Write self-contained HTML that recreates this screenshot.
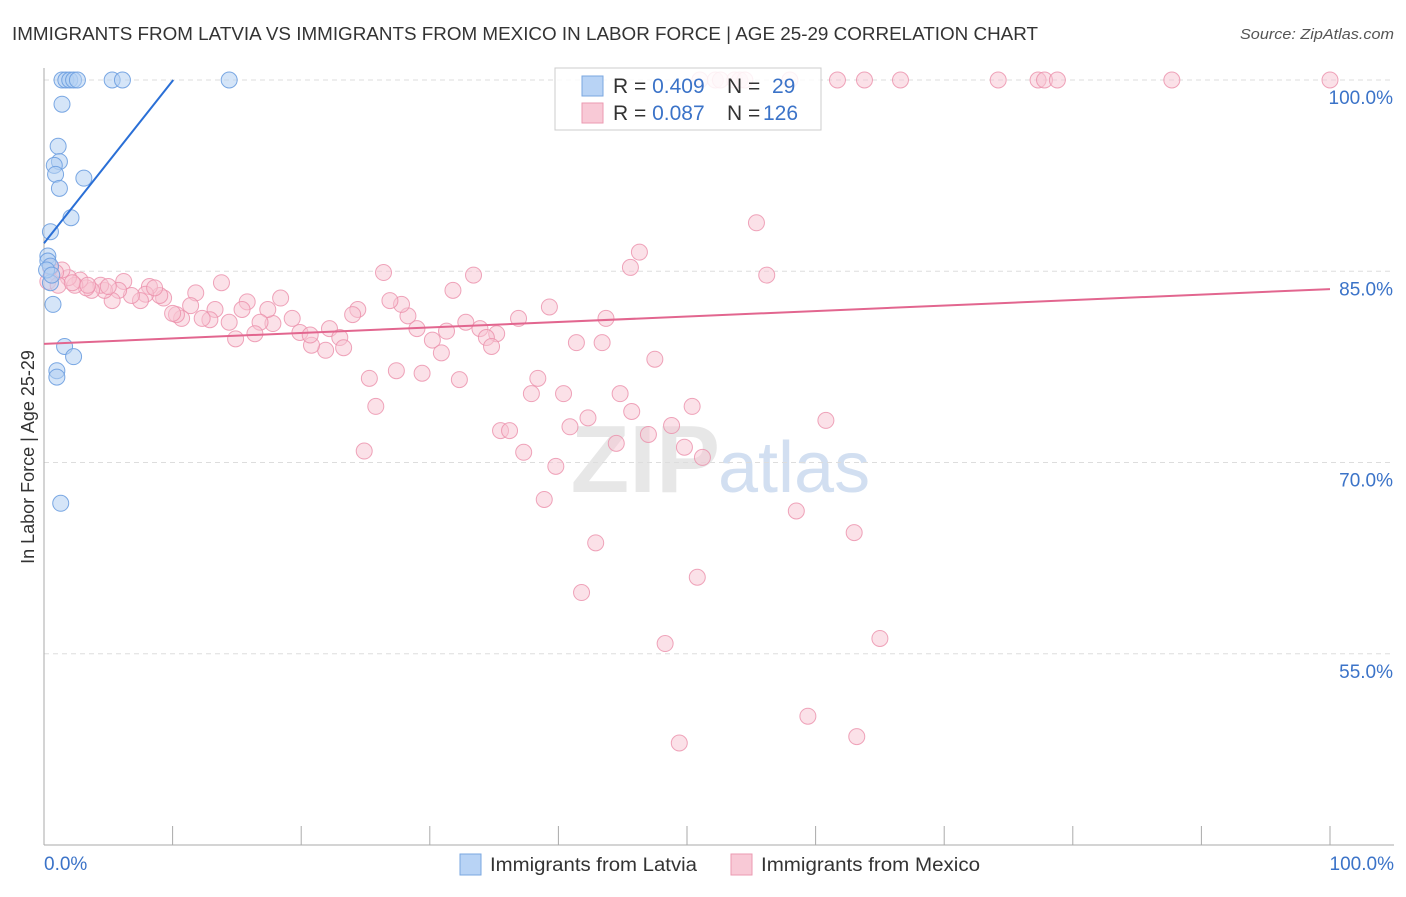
<!DOCTYPE html>
<html><head><meta charset="utf-8"><style>
body{margin:0;background:#fff;font-family:"Liberation Sans",sans-serif}
svg text{font-family:"Liberation Sans",sans-serif}
</style></head><body>
<svg id="c" width="1406" height="892">
<text x="12" y="40" font-size="18.5" fill="#333" textLength="1026" lengthAdjust="spacingAndGlyphs">IMMIGRANTS FROM LATVIA VS IMMIGRANTS FROM MEXICO IN LABOR FORCE | AGE 25-29 CORRELATION CHART</text>
<text x="1394" y="39" font-size="15" fill="#555" text-anchor="end" font-style="italic" textLength="154" lengthAdjust="spacingAndGlyphs">Source: ZipAtlas.com</text>
<text x="720" y="492" font-size="96" fill="#ddd" text-anchor="end" font-weight="bold" opacity="0.7">ZIP</text>
<text x="718" y="492" font-size="72" fill="#c8d8ee" opacity="0.8">atlas</text>
<g id="grid"></g><g id="pts"></g><g id="lines"></g>
<text transform="translate(34,457) rotate(-90)" font-size="18" fill="#333" text-anchor="middle">In Labor Force | Age 25-29</text>
<text x="44" y="870" font-size="19" fill="#3b73c8">0.0%</text>
<text x="1394" y="870" font-size="19" fill="#3b73c8" text-anchor="end">100.0%</text>
<g>
<rect x="460" y="854" width="21" height="21" fill="#b8d3f5" stroke="#7aa7e0"/>
<text x="490" y="871" font-size="19" fill="#333" textLength="207" lengthAdjust="spacingAndGlyphs">Immigrants from Latvia</text>
<rect x="731" y="854" width="21" height="21" fill="#f8c9d6" stroke="#eb9ab1"/>
<text x="761" y="871" font-size="19" fill="#333" textLength="219" lengthAdjust="spacingAndGlyphs">Immigrants from Mexico</text>
</g>
<g>
<rect x="555" y="68" width="266" height="62" fill="#fff" fill-opacity="0.85" stroke="#ccc"/>
<rect x="582" y="76" width="21" height="20" fill="#b8d3f5" stroke="#7aa7e0"/>
<rect x="582" y="103" width="21" height="20" fill="#f8c9d6" stroke="#eb9ab1"/>
<text x="613" y="93" font-size="21" fill="#333">R = <tspan fill="#3b73c8">0.409</tspan><tspan x="727">N =</tspan><tspan x="772" fill="#3b73c8">29</tspan></text>
<text x="613" y="120" font-size="21" fill="#333">R = <tspan fill="#3b73c8">0.087</tspan><tspan x="727">N =</tspan><tspan x="763" fill="#3b73c8">126</tspan></text>
</g>
</svg>
<script>
const yTicks=[100,85,70,55];
const yTickLabels=["100.0%","85.0%","70.0%","55.0%"];
const xTicks=[0,10,20,30,40,50,60,70,80,90,100];
const latviaX=[1.4,1.7,2.0,2.3,2.6,5.3,6.1,14.4,1.4,1.1,1.2,0.8,0.9,1.2,3.1,2.1,0.5,0.3,0.3,0.5,0.5,0.7,1.6,2.3,1.0,1.0,1.3,0.2,0.6];
const latviaY=[100,100,100,100,100,100,100,100,98.1,94.8,93.6,93.3,92.6,91.5,92.3,89.2,88.1,86.2,85.8,85.4,84.1,82.4,79.1,78.3,77.2,76.7,66.8,85.1,84.7];
const mexicoX=[51.0,52.2,53.7,54.1,58.0,61.7,63.8,66.6,74.2,77.3,77.8,78.8,87.7,100,52.6,54.5,55.4,46.3,45.6,56.2,26.4,33.4,31.8,39.3,43.7,36.9,32.8,33.9,31.3,35.2,30.2,34.4,34.8,30.9,29.0,28.3,27.8,26.9,24.4,24.0,22.2,23.0,23.3,21.9,20.8,19.9,20.7,19.3,18.4,17.8,17.4,16.8,16.4,15.8,15.4,14.9,14.4,13.8,13.3,12.9,12.3,11.8,11.4,10.7,10.3,10.0,9.3,9.0,8.2,7.9,7.5,6.8,6.2,5.8,5.3,4.7,4.4,3.7,3.3,2.8,2.4,1.9,1.4,0.9,0.5,0.3,1.1,2.2,3.4,5.0,8.6,43.4,41.4,47.5,40.4,37.9,38.4,44.8,50.4,45.7,60.8,42.3,44.5,40.9,47.0,48.8,49.8,51.2,35.5,36.2,37.3,39.8,38.9,32.3,29.4,27.4,25.3,25.8,24.9,58.5,63.0,42.9,50.8,41.8,48.3,65.0,59.4,49.4,63.2];
const mexicoY=[100,100,100,100,100,100,100,100,100,100,100,100,100,100,100,100,88.8,86.5,85.3,84.7,84.9,84.7,83.5,82.2,81.3,81.3,81.0,80.5,80.3,80.1,79.6,79.8,79.1,78.6,80.5,81.5,82.4,82.7,82.0,81.6,80.5,79.8,79.0,78.8,79.2,80.2,80.0,81.3,82.9,80.9,82.0,81.0,80.1,82.6,82.0,79.7,81.0,84.1,82.0,81.2,81.3,83.3,82.3,81.3,81.6,81.7,82.9,83.1,83.8,83.2,82.7,83.1,84.2,83.5,82.7,83.5,83.9,83.5,83.7,84.3,83.9,84.5,85.1,84.9,85.3,84.2,83.9,84.1,83.9,83.8,83.7,79.4,79.4,78.1,75.4,75.4,76.6,75.4,74.4,74.0,73.3,73.5,71.5,72.8,72.2,72.9,71.2,70.4,72.5,72.5,70.8,69.7,67.1,76.5,77.0,77.2,76.6,74.4,70.9,66.2,64.5,63.7,61.0,59.8,55.8,56.2,50.1,48.0,48.5];
const latviaTrend=[0,87.2,10.05,100];
const mexicoTrend=[0,79.3,100,83.6];
const NS="http://www.w3.org/2000/svg";
const X=p=>44+p*12.86, Y=v=>80+(100-v)*12.75;
function mk(parent,tag,attrs){const e=document.createElementNS(NS,tag);for(const k in attrs)e.setAttribute(k,attrs[k]);document.getElementById(parent).appendChild(e);return e;}
yTicks.forEach((t,i)=>{
 const g=mk('grid','line',{x1:44,x2:1394,y1:Y(t),y2:Y(t),stroke:'#ddd','stroke-dasharray':'5,4'});
 
 
 const l=mk('grid','text',{x:1393,y:Y(t)+24,'font-size':19,fill:'#3b73c8','text-anchor':'end'});
 l.textContent=yTickLabels[i];
 
 
});
const ax=mk('grid','line',{x1:44,x2:44,y1:68,y2:845,stroke:'#aaa'});


const bx=mk('grid','line',{x1:44,x2:1394,y1:845,y2:845,stroke:'#aaa'});


xTicks.forEach(t=>{const k=mk('grid','line',{x1:X(t),x2:X(t),y1:826,y2:845,stroke:'#aaa'});
 
 });
mexicoX.forEach((x,i)=>{const c=mk('pts','circle',{cx:X(x),cy:Y(mexicoY[i]),r:8,fill:'#f8c3d2','fill-opacity':0.5,stroke:'#eb8faa','stroke-opacity':0.8});
 
 });
latviaX.forEach((x,i)=>{const c=mk('pts','circle',{cx:X(x),cy:Y(latviaY[i]),r:8,fill:'#b3cff3','fill-opacity':0.55,stroke:'#6d9fe0','stroke-opacity':0.9});
 
 });
const lt=mk('lines','line',{x1:X(latviaTrend[0]),y1:Y(latviaTrend[1]),x2:X(latviaTrend[2]),y2:Y(latviaTrend[3]),stroke:'#2a6fd6','stroke-width':2});


const mt=mk('lines','line',{x1:X(mexicoTrend[0]),y1:Y(mexicoTrend[1]),x2:X(mexicoTrend[2]),y2:Y(mexicoTrend[3]),stroke:'#e2668f','stroke-width':2});


</script>
</body></html>
